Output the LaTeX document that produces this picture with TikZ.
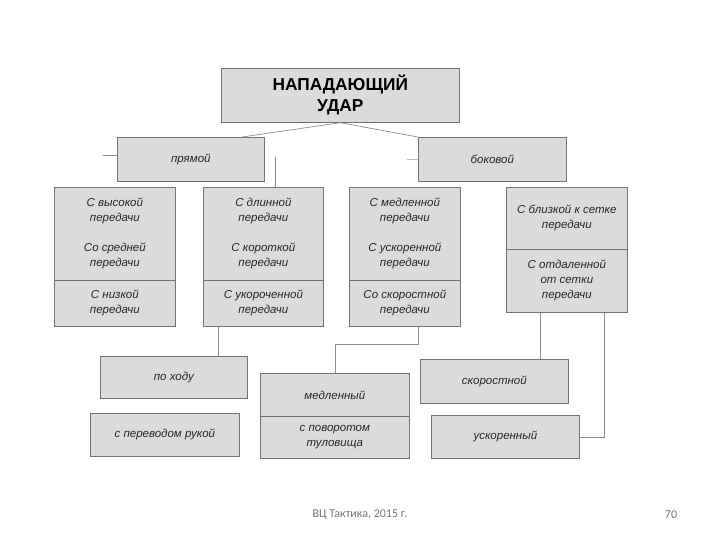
\documentclass[tikz,border=0pt]{standalone}
\usepackage{fontspec}
\setmainfont{Liberation Sans}
\newfontfamily\footfont{Carlito}
\begin{document}
\begin{tikzpicture}[x=1pt,y=-1pt,
  box/.style={draw=black!55, line width=0.7pt, fill=black!14, inner sep=0pt,
    align=center, anchor=north west, text=black!85,
    font=\itshape\fontsize{11.5}{15}\selectfont},
  titlebox/.style={box, text=black, font=\bfseries\fontsize{17.3}{21}\selectfont},
  conn/.style={draw=black!45, line width=0.7pt},
  faint/.style={draw=black!25, line width=0.7pt},
  foot/.style={text=black!55, font=\footfont\fontsize{12}{14}\selectfont}]
\useasboundingbox (0,0) rectangle (720,540);

% title
\node[titlebox, minimum width=238, minimum height=54] (title) at (221,68) {НАПАДАЮЩИЙ\\УДАР};

% second level
\node[box, minimum width=147, minimum height=44] (pryam) at (117,137) {прямой};
\node[box, minimum width=148, minimum height=44] (bok) at (418,137) {боковой};

% columns
\node[box, minimum width=121, minimum height=93] (c1a) at (54,187) {С высокой\\передачи\\[15pt]Со средней\\передачи};
\node[box, minimum width=121, minimum height=46] (c1b) at (54,280) {С низкой\\передачи};

\node[box, minimum width=120, minimum height=93] (c2a) at (203,187) {С длинной\\передачи\\[15pt]С короткой\\передачи};
\node[box, minimum width=120, minimum height=46] (c2b) at (203,280) {С укороченной\\передачи};

\node[box, minimum width=111, minimum height=93] (c3a) at (349,187) {С медленной\\передачи\\[15pt]С ускоренной\\передачи};
\node[box, minimum width=111, minimum height=46] (c3b) at (349,280) {Со скоростной\\передачи};

\node[box, minimum width=121, minimum height=62] (c4a) at (506,187) {С близкой к сетке\\передачи};
\node[box, minimum width=121, minimum height=63] (c4b) at (506,249) {С отдаленной\\от сетки\\передачи};

% bottom level
\node[box, minimum width=147, minimum height=42] (hod) at (100,356) {по ходу};
\node[box, minimum width=149, minimum height=43] (perev) at (90,413) {с переводом рукой};
\node[box, minimum width=149, minimum height=43] (medl) at (260,373) {медленный};
\node[box, minimum width=149, minimum height=42] (povor) at (260,416) {с поворотом\\туловища};
\node[box, minimum width=148, minimum height=44] (skor) at (420,359) {скоростной};
\node[box, minimum width=148, minimum height=43] (uskor) at (431,415) {ускоренный};

% helper coordinates
\coordinate (p1) at (242,137);
\coordinate (s1) at (103,155);
\coordinate (s2) at (407,159);
\coordinate (s3) at (275,157);
\coordinate (v1) at (218,0);
\coordinate (v2) at (418,344);
\coordinate (v3) at (335,344);
\coordinate (v4) at (540,0);
\coordinate (v5) at (604,0);

% connectors
\draw[conn] (title.south) -- (p1);
\draw[conn] (title.south) -- (bok.north west);
\draw[conn] (s1) -- (pryam.west |- s1);
\draw[faint] (s2) -- (bok.west |- s2);
\draw[conn] (s3) -- (s3 |- c2a.north);
\draw[conn] (v1 |- c2b.south) -- (v1 |- hod.north);
\draw[conn] (v2 |- c3b.south) -- (v2) -- (v3) -- (v3 |- medl.north);
\draw[conn] (v4 |- c4b.south) -- (v4 |- skor.north);
\draw[conn] (v5 |- c4b.south) -- (v5 |- uskor.east) -- (uskor.east);

% footer
\node[foot] (footer) at (360,515) {ВЦ Тактика, 2015 г.};
\node[foot] (page) at (671,515) {70};
\end{tikzpicture}
\end{document}
